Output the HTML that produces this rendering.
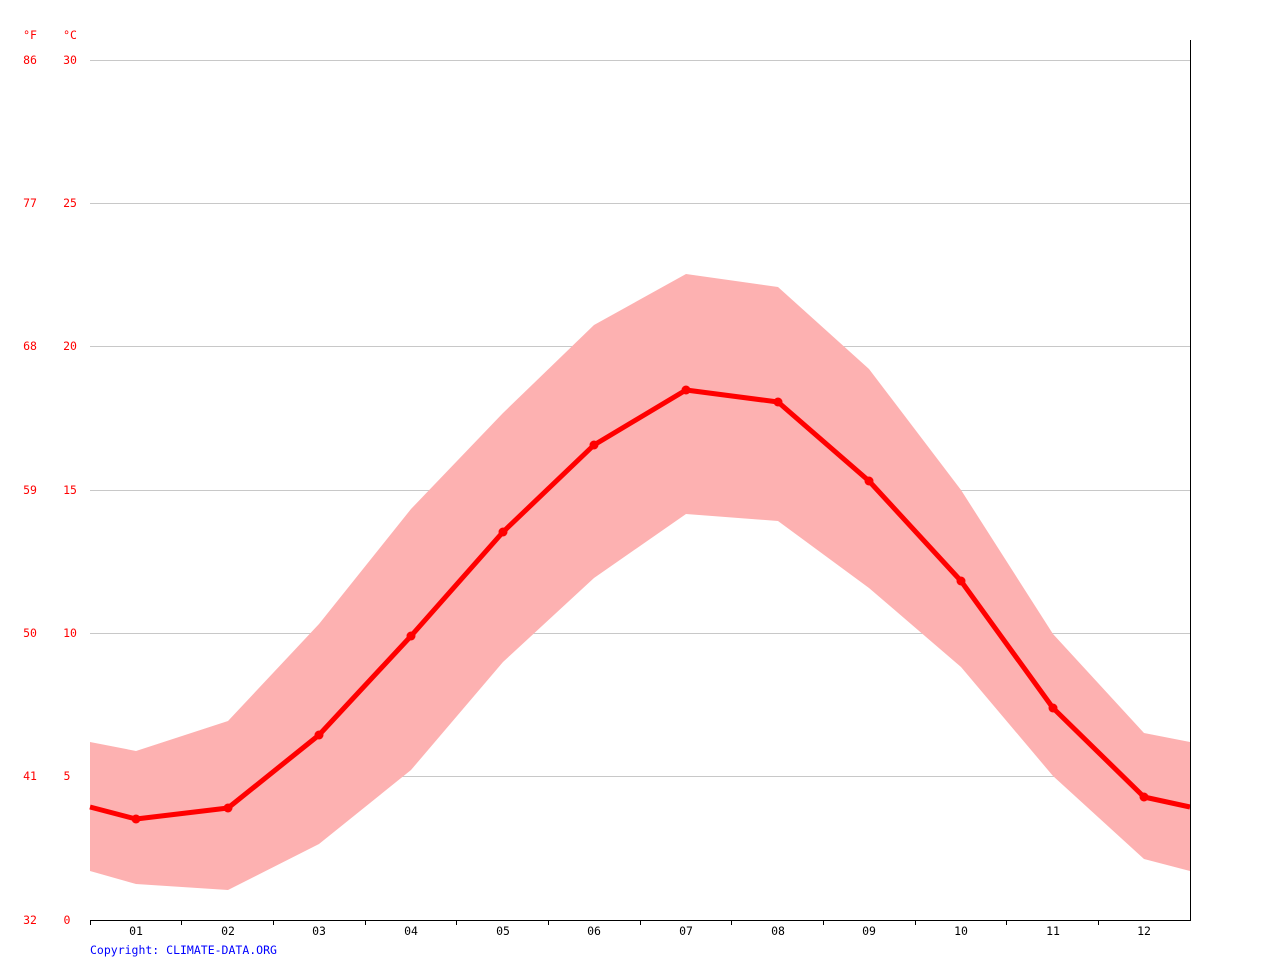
<!DOCTYPE html>
<html><head><meta charset="utf-8"><style>
html,body{margin:0;padding:0;background:#fff;}
svg{display:block;}
text{font-family:"DejaVu Sans Mono","Liberation Mono",monospace;font-size:11.5px;}
</style></head><body>
<svg width="1280" height="960" xmlns="http://www.w3.org/2000/svg">
<g stroke="#c8c8c8" stroke-width="1">
<line x1="90" y1="60.5" x2="1190" y2="60.5"/>
<line x1="90" y1="203.5" x2="1190" y2="203.5"/>
<line x1="90" y1="346.5" x2="1190" y2="346.5"/>
<line x1="90" y1="490.5" x2="1190" y2="490.5"/>
<line x1="90" y1="633.5" x2="1190" y2="633.5"/>
<line x1="90" y1="776.5" x2="1190" y2="776.5"/>
</g>
<polygon fill="#fdb1b1" points="90,742 136,751 228,721 319,624 411,509 503,413 594,325 686,274 778,287 869,369 961,490 1053,634 1144,733 1190,742 1190,871 1144,859 1053,776 961,667 869,588 778,521 686,514 594,578 503,662 411,770 319,844 228,890 136,884 90,871"/>
<polyline fill="none" stroke="#ff0000" stroke-width="5" stroke-linejoin="round" points="90,807 136,819 228,808 319,735 411,636 503,532 594,445 686,390 778,402 869,481 961,581 1053,708 1144,797 1190,807"/>
<g fill="#ff0000">
<circle cx="136" cy="819" r="4.5"/><circle cx="228" cy="808" r="4.5"/><circle cx="319" cy="735" r="4.5"/><circle cx="411" cy="636" r="4.5"/><circle cx="503" cy="532" r="4.5"/><circle cx="594" cy="445" r="4.5"/><circle cx="686" cy="390" r="4.5"/><circle cx="778" cy="402" r="4.5"/><circle cx="869" cy="481" r="4.5"/><circle cx="961" cy="581" r="4.5"/><circle cx="1053" cy="708" r="4.5"/><circle cx="1144" cy="797" r="4.5"/>
</g>
<g stroke="#000" stroke-width="1">
<line x1="90" y1="920.5" x2="1190" y2="920.5"/>
<line x1="1190.5" y1="40" x2="1190.5" y2="921"/>
<line x1="90.5" y1="920" x2="90.5" y2="925"/>
<line x1="181.5" y1="920" x2="181.5" y2="925"/>
<line x1="273.5" y1="920" x2="273.5" y2="925"/>
<line x1="365.5" y1="920" x2="365.5" y2="925"/>
<line x1="456.5" y1="920" x2="456.5" y2="925"/>
<line x1="548.5" y1="920" x2="548.5" y2="925"/>
<line x1="640.5" y1="920" x2="640.5" y2="925"/>
<line x1="731.5" y1="920" x2="731.5" y2="925"/>
<line x1="823.5" y1="920" x2="823.5" y2="925"/>
<line x1="915.5" y1="920" x2="915.5" y2="925"/>
<line x1="1006.5" y1="920" x2="1006.5" y2="925"/>
<line x1="1098.5" y1="920" x2="1098.5" y2="925"/>
</g>
<g fill="#000" text-anchor="middle">
<text x="136" y="935">01</text><text x="228" y="935">02</text><text x="319" y="935">03</text><text x="411" y="935">04</text><text x="503" y="935">05</text><text x="594" y="935">06</text><text x="686" y="935">07</text><text x="778" y="935">08</text><text x="869" y="935">09</text><text x="961" y="935">10</text><text x="1053" y="935">11</text><text x="1144" y="935">12</text>
</g>
<g fill="#ff0000" text-anchor="middle">
<text x="30" y="39">°F</text><text x="70" y="39">°C</text>
<text x="30" y="64">86</text><text x="70" y="64">30</text>
<text x="30" y="207">77</text><text x="70" y="207">25</text>
<text x="30" y="350">68</text><text x="70" y="350">20</text>
<text x="30" y="494">59</text><text x="70" y="494">15</text>
<text x="30" y="637">50</text><text x="70" y="637">10</text>
<text x="30" y="780">41</text><text x="67" y="780">5</text>
<text x="30" y="924">32</text><text x="67" y="924">0</text>
</g>
<text x="90" y="954" fill="#0000ff">Copyright: CLIMATE-DATA.ORG</text>
</svg>
</body></html>
